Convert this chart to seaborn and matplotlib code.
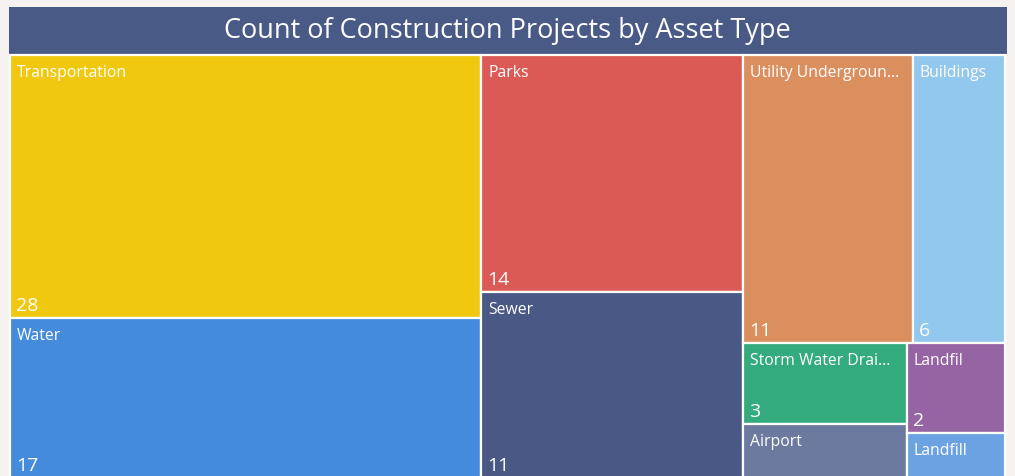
import math
import matplotlib
matplotlib.use("Agg")
import matplotlib.pyplot as plt
from matplotlib.patches import Rectangle
import seaborn as sns

# ---- data ----
title = "Count of Construction Projects by Asset Type"
categories = ["Transportation", "Water", "Parks", "Sewer", "Utility Undergroun...",
              "Buildings", "Storm Water Drai...", "Airport", "Landfil", "Landfill"]
counts = [28, 17, 14, 11, 11, 6, 3, 2, 2, 1]
colors = ["#F0C80F", "#458BDB", "#DB5A56", "#4A5886", "#DC8F5E",
          "#92C7EE", "#34AB7D", "#6C7A9F", "#9663A3", "#6BA3E2"]

# ---- style ----
sns.set_theme(style="white")
plt.rcParams["font.family"] = ["Open Sans", "DejaVu Sans"]

W, H = 1015, 476
BG = "#F6F2EF"
TITLE_BG = "#4A5A87"


def squarify_ratio(values, x0, y0, x1, y1, ratio=(1 + math.sqrt(5)) / 2):
    """d3-style squarified treemap (golden ratio target)."""
    rects = [None] * len(values)
    n = len(values)
    total = float(sum(values))
    i0 = i1 = 0
    while i0 < n:
        dx, dy = x1 - x0, y1 - y0
        sum_v = values[i1]
        i1 += 1
        min_v = max_v = sum_v
        alpha = max(dy / dx, dx / dy) / (total * ratio)
        beta = sum_v * sum_v * alpha
        min_ratio = max(max_v / beta, beta / min_v)
        while i1 < n:
            v = values[i1]
            s = sum_v + v
            mn, mx = min(min_v, v), max(max_v, v)
            beta = s * s * alpha
            new_ratio = max(mx / beta, beta / mn)
            if new_ratio > min_ratio:
                break
            sum_v, min_v, max_v, min_ratio = s, mn, mx, new_ratio
            i1 += 1
        idx = list(range(i0, i1))
        if dx < dy:  # horizontal row across the top
            yb = y0 + dy * sum_v / total
            cx = x0
            for k in idx:
                w = (x1 - x0) * values[k] / sum_v
                rects[k] = (cx, y0, cx + w, yb)
                cx += w
            y0 = yb
        else:  # vertical column on the left
            xb = x0 + dx * sum_v / total
            cy = y0
            for k in idx:
                h = (y1 - y0) * values[k] / sum_v
                rects[k] = (x0, cy, xb, cy + h)
                cy += h
            x0 = xb
        total -= sum_v
        i0 = i1
    return rects


fig = plt.figure(figsize=(W / 100, H / 100), dpi=100, facecolor=BG)
ax = fig.add_axes([0, 0, 1, 1])
ax.set_xlim(0, W)
ax.set_ylim(H, 0)
ax.axis("off")
ax.set_facecolor(BG)

# title bar
ax.add_patch(Rectangle((9, 7), 998, 47, facecolor=TITLE_BG, edgecolor="none"))
ax.text(507, 38, title, color="white", fontsize=19.5, ha="center", va="baseline")

palette = sns.color_palette(colors)
rects = squarify_ratio(counts, 10, 55, 1005, 478)
for (rx0, ry0, rx1, ry1), name, val, col in zip(rects, categories, counts, palette):
    ax.add_patch(Rectangle((rx0, ry0), rx1 - rx0, ry1 - ry0, facecolor=col,
                           edgecolor="white", linewidth=1.6))
    ax.text(rx0 + 7, ry0 + 22, name, color="white", fontsize=11.3, va="baseline", ha="left")
    if ry1 - ry0 > 60:
        ax.text(rx0 + 6, ry1 - 7, str(val), color="white", fontsize=14,
                va="baseline", ha="left")

fig.savefig("out.png", dpi=100, facecolor=BG)
